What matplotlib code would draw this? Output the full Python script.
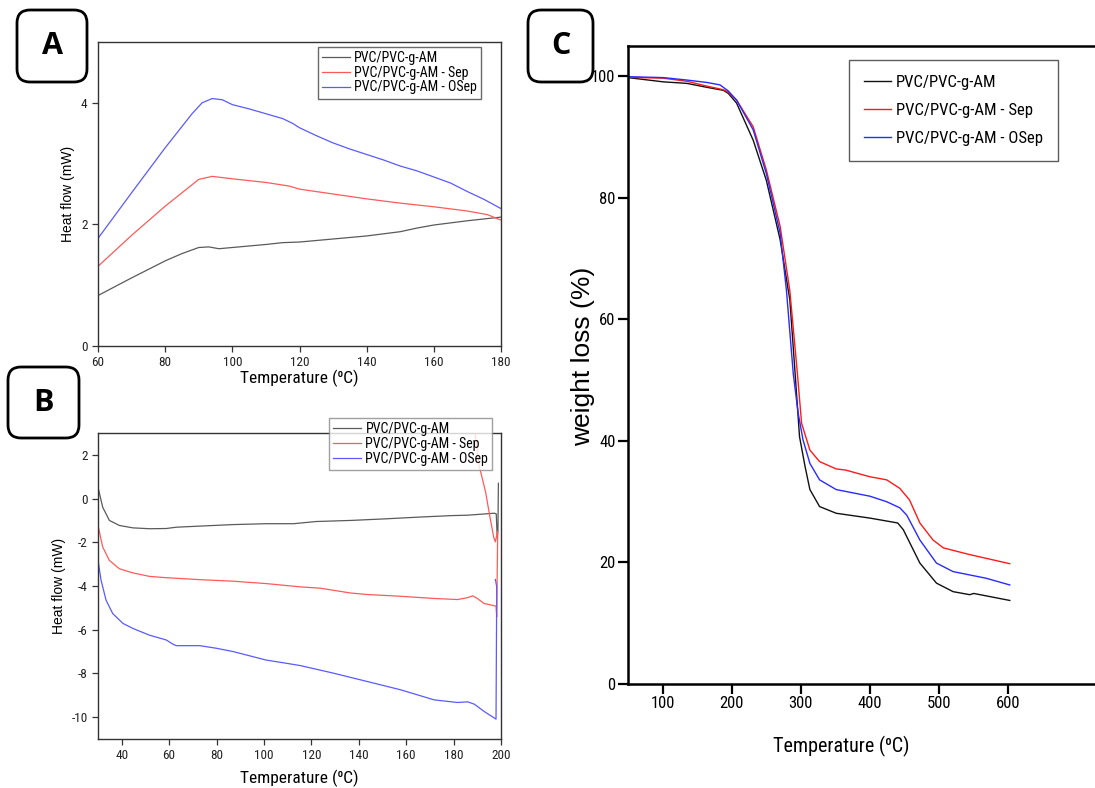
"""DSC (A, B) and TGA (C) curves for PVC/PVC-g-AM blends."""

import matplotlib

matplotlib.use("Agg")
import matplotlib.pyplot as plt
from matplotlib.patches import FancyBboxPatch

plt.rcParams["axes.unicode_minus"] = False

NARROW = ["Roboto Condensed", "Liberation Sans Narrow", "Liberation Sans", "DejaVu Sans"]
REGULAR = ["Liberation Sans", "DejaVu Sans"]

SERIES = ["PVC/PVC-g-AM", "PVC/PVC-g-AM - Sep", "PVC/PVC-g-AM - OSep"]

# --- panel A: DSC heating, heat flow (mW) vs temperature (C)
a_t_base = [60, 70, 80, 85, 90, 93, 96, 100, 110, 115, 120, 130, 140, 150, 155, 160, 170, 180]
a_hf_base = [0.83, 1.12, 1.40, 1.52, 1.62, 1.63, 1.60, 1.62, 1.67, 1.70, 1.71, 1.76, 1.81,
             1.88, 1.94, 1.99, 2.06, 2.12]
a_t_sep = [60, 70, 80, 85, 90, 94, 100, 110, 117, 120, 130, 140, 150, 160, 170, 176, 180]
a_hf_sep = [1.31, 1.82, 2.30, 2.52, 2.74, 2.79, 2.75, 2.69, 2.63, 2.58, 2.50, 2.42, 2.35,
            2.29, 2.22, 2.16, 2.07]
a_t_osep = [60, 70, 80, 88, 91, 94, 97, 100, 105, 110, 115, 118, 120, 125, 130, 135, 140,
            145, 150, 155, 160, 165, 170, 175, 180]
a_hf_osep = [1.77, 2.52, 3.26, 3.82, 4.00, 4.07, 4.05, 3.97, 3.90, 3.82, 3.74, 3.66, 3.59,
             3.46, 3.34, 3.24, 3.15, 3.06, 2.96, 2.88, 2.78, 2.68, 2.54, 2.41, 2.26]

# --- panel B: DSC cooling run
b_t_base = [30, 32, 34.8, 39, 44.7, 51.7, 58.8, 63, 73, 87, 101, 112.5, 122, 136.7, 150.8,
            165, 179, 186, 197.2, 198.0, 198.4, 198.7, 198.9]
b_hf_base = [0.52, -0.40, -1.00, -1.23, -1.34, -1.38, -1.37, -1.31, -1.26, -1.19, -1.15,
             -1.15, -1.05, -1.00, -0.93, -0.85, -0.78, -0.76, -0.67, -0.70, -1.80, -1.50, 0.70]
b_t_sep = [30, 32, 34.8, 39, 44.7, 51.7, 58.8, 73, 87, 101, 115.3, 123.8, 136.5, 143.6,
           157.7, 171.8, 181.7, 186, 188, 190, 192.9, 197.9, 198.2, 198.6, 197.6, 196.9,
           195.1, 193.5, 190.8, 189.5, 188.5]
b_hf_sep = [-1.23, -2.22, -2.83, -3.21, -3.40, -3.56, -3.62, -3.71, -3.78, -3.89, -4.04,
            -4.10, -4.32, -4.39, -4.47, -4.57, -4.62, -4.53, -4.45, -4.57, -4.80, -4.92,
            -5.41, -1.50, -1.98, -1.76, -0.70, 0.30, 1.50, 2.60, 3.50]
b_t_osep = [30, 31.3, 33.4, 36.2, 40.5, 44.7, 51.7, 58.8, 61.6, 63, 73, 80, 87, 101, 108,
            115.3, 129.4, 143.6, 157.7, 171.8, 181.7, 186, 188.8, 192.9, 197.9, 198.2,
            197.8, 197.6]
b_hf_osep = [-2.83, -3.74, -4.65, -5.26, -5.71, -5.94, -6.25, -6.47, -6.66, -6.73, -6.73,
             -6.85, -7.00, -7.39, -7.51, -7.64, -7.99, -8.37, -8.75, -9.21, -9.33, -9.30,
             -9.41, -9.74, -10.09, -4.04, -3.80, -3.70]

# --- panel C: TGA, weight (%) vs temperature (C)
c_t_base = [50, 101, 135, 164, 188, 195, 207, 231, 250, 270, 284, 292, 298, 306, 313, 327,
            351, 400, 440, 448, 472, 496, 520, 544, 550, 602]
c_w_base = [99.8, 99.1, 98.85, 98.2, 97.7, 97.2, 95.6, 89.5, 82.9, 73.1, 63.2, 50.5, 40.7,
            35.8, 32.0, 29.2, 28.1, 27.3, 26.5, 25.4, 19.9, 16.6, 15.2, 14.7, 14.9, 13.75]
c_t_sep = [50, 101, 135, 164, 188, 195, 207, 231, 250, 270, 284, 295, 301, 313, 327, 351,
           365, 400, 424, 443, 457, 472, 491, 506, 544, 602]
c_w_sep = [99.85, 99.7, 99.2, 98.4, 97.8, 97.4, 96.1, 91.7, 84.6, 75.3, 64.7, 51.0, 42.9,
           38.5, 36.6, 35.4, 35.2, 34.1, 33.6, 32.2, 30.3, 26.5, 23.7, 22.4, 21.3, 19.8]
c_t_osep = [50, 101, 135, 164, 183, 195, 207, 231, 250, 270, 279, 289, 296, 303, 313, 327,
            351, 400, 424, 443, 453, 472, 496, 520, 568, 602]
c_w_osep = [99.95, 99.8, 99.4, 99.0, 98.6, 97.6, 96.1, 91.2, 84.0, 74.2, 64.9, 51.0, 44.6,
            40.2, 36.3, 33.6, 32.0, 30.9, 30.0, 29.0, 27.8, 23.7, 19.9, 18.5, 17.4, 16.3]

DSC_COLORS = ["#5a5a5a", "#ff5a5a", "#5a5aff"]
TGA_COLORS = ["#111111", "#ff1a1a", "#2a2aff"]

W, H = 1095, 788
fig = plt.figure(figsize=(W / 100, H / 100), dpi=100)


def px_axes(left, top, right, bottom):
    """Axes placed by pixel edges of the 1095x788 canvas."""
    return fig.add_axes([left / W, 1 - bottom / H, (right - left) / W, (bottom - top) / H])


def panel_tag(letter, left, top, right, bottom):
    box = FancyBboxPatch((left / 100, (H - bottom) / 100), (right - left) / 100,
                         (bottom - top) / 100, boxstyle="round,pad=0,rounding_size=0.13",
                         transform=fig.dpi_scale_trans, facecolor="white",
                         edgecolor="black", linewidth=2.0)
    fig.add_artist(box)
    fig.text((left + right) / 2 / W, 1 - (top + bottom) / 2 / H, letter, ha="center",
             va="center", fontsize=22, fontweight="bold", family=["Open Sans", "DejaVu Sans"])


def style_dsc(ax, xpad):
    for sp in ax.spines.values():
        sp.set_color("#333333")
        sp.set_linewidth(1.0)
    ax.tick_params(direction="out", length=4, width=0.9, color="#333333",
                   labelcolor="#222222", labelsize=9.5, top=False, right=False)
    for lab in ax.get_xticklabels() + ax.get_yticklabels():
        lab.set_family(NARROW)
    ax.set_xlabel("Temperature (\u2070C)", family=NARROW, fontsize=12.5, labelpad=xpad)
    ax.set_ylabel("Heat flow (mW)", family=REGULAR, fontsize=10)


def dsc_legend(ax, anchor, edge):
    return ax.legend(loc="upper left", bbox_to_anchor=anchor, borderaxespad=0,
                     prop={"family": NARROW, "size": 10}, frameon=True, fancybox=False,
                     edgecolor=edge, handlelength=2.0, handletextpad=0.3,
                     labelspacing=0.05, borderpad=0.3)


# ---------------- A
ax_a = px_axes(98, 42, 501, 346)
for t, hf, c, lab in zip([a_t_base, a_t_sep, a_t_osep], [a_hf_base, a_hf_sep, a_hf_osep],
                         DSC_COLORS, SERIES):
    ax_a.plot(t, hf, color=c, lw=0.9, label=lab)
ax_a.set_xlim(60, 180)
ax_a.set_ylim(0, 5)
ax_a.set_xticks(range(60, 181, 20))
ax_a.set_yticks([0, 2, 4])
style_dsc(ax_a, 0.5)
dsc_legend(ax_a, (0.546, 0.984), "#444444")

# ---------------- B
ax_b = px_axes(98, 433, 501, 739)
for t, hf, c, lab in zip([b_t_base, b_t_sep, b_t_osep], [b_hf_base, b_hf_sep, b_hf_osep],
                         DSC_COLORS, SERIES):
    ax_b.plot(t, hf, color=c, lw=0.9, label=lab)
ax_b.set_xlim(30, 200)
ax_b.set_ylim(-11, 3)
ax_b.set_xticks(range(40, 201, 20))
ax_b.set_yticks(range(-10, 3, 2))
style_dsc(ax_b, 5)
dsc_legend(ax_b, (0.574, 1.049), "#888888").set_zorder(5)

# ---------------- C
ax_c = px_axes(628, 46, 1099, 684)
for t, w, c, lab in zip([c_t_base, c_t_sep, c_t_osep], [c_w_base, c_w_sep, c_w_osep],
                        TGA_COLORS, SERIES):
    ax_c.plot(t, w, color=c, lw=1.0, label=lab)
ax_c.set_xlim(50, 731)
ax_c.set_ylim(0, 105)
ax_c.set_xticks(range(100, 601, 100))
ax_c.set_yticks(range(0, 101, 20))
for sp in ax_c.spines.values():
    sp.set_linewidth(1.8)
ax_c.tick_params(direction="out", length=7, width=1.6, labelsize=12, pad=2)
for lab in ax_c.get_xticklabels() + ax_c.get_yticklabels():
    lab.set_family(NARROW)
ax_c.set_xlabel("Temperature (\u2070C)", family=NARROW, fontsize=14.5)
ax_c.xaxis.set_label_coords(0.452, -0.082)
ax_c.set_ylabel("weight loss (%)", family=REGULAR, fontsize=19)
ax_c.yaxis.set_label_coords(-0.071, 0.513)
ax_c.legend(loc="upper left", bbox_to_anchor=(849 / W, 1 - 60 / H),
            bbox_transform=fig.transFigure, borderaxespad=0,
            prop={"family": NARROW, "size": 12}, frameon=True, fancybox=False,
            edgecolor="#333333", handlelength=1.6, handletextpad=0.3, labelspacing=0.78,
            borderpad=0.9)

panel_tag("A", 17, 10, 87, 82)
panel_tag("B", 8, 367, 79, 438)
panel_tag("C", 528, 10, 593, 82)

fig.savefig("out.png", dpi=100)
